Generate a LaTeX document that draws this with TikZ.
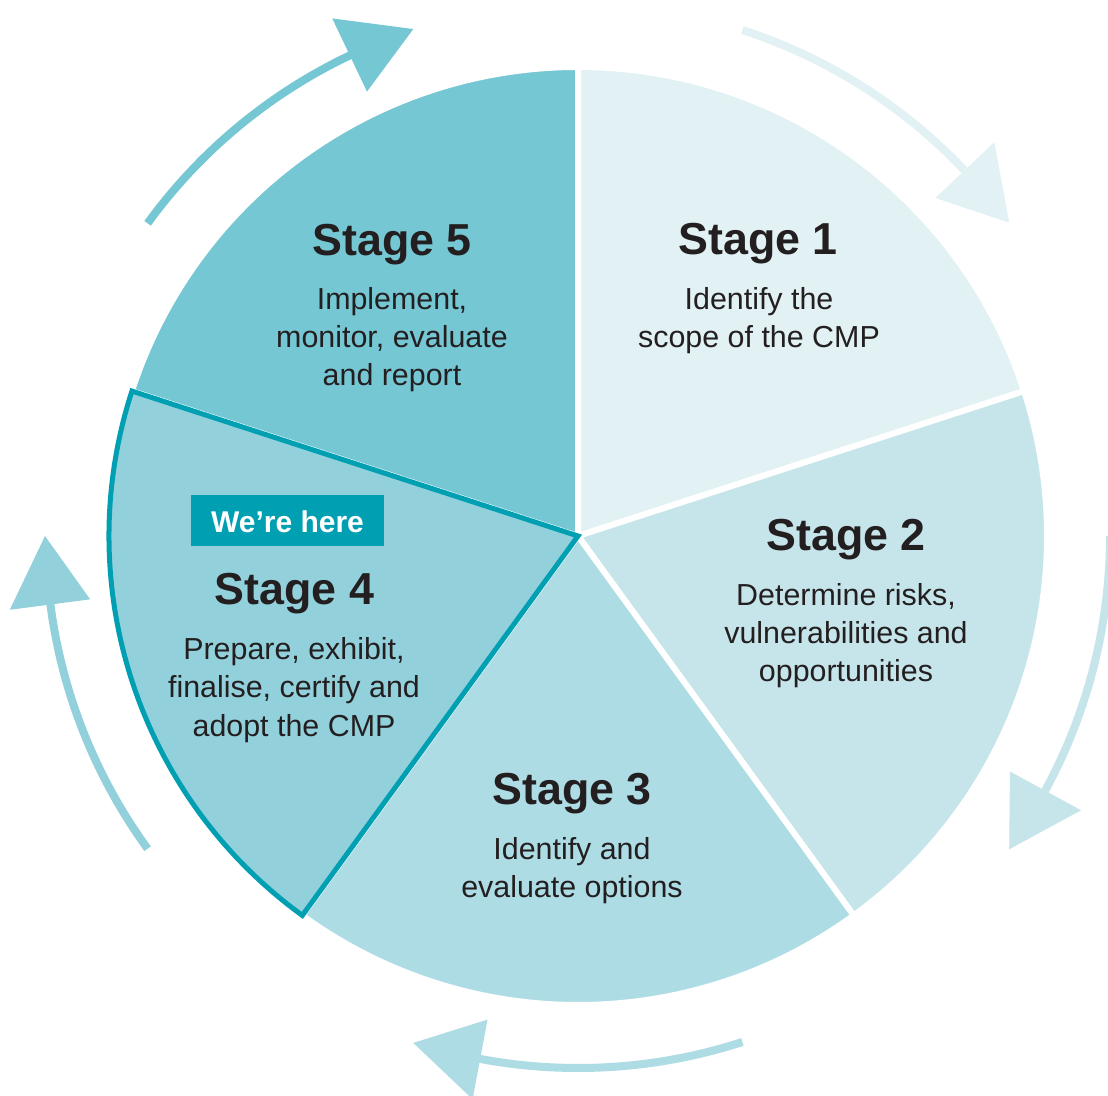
\documentclass[tikz,border=0pt]{standalone}
\usepackage{fontspec}
\setmainfont{Liberation Sans}
\definecolor{sOne}{HTML}{E1F1F4}
\definecolor{sTwo}{HTML}{C6E5EA}
\definecolor{sThree}{HTML}{ADDCE5}
\definecolor{sFour}{HTML}{92D1DC}
\definecolor{sFive}{HTML}{75C7D3}
\definecolor{tealline}{HTML}{00A0B2}
\definecolor{txt}{HTML}{231F20}
\begin{document}
\begin{tikzpicture}[x=1pt,y=1pt,
  title/.style={font=\fontsize{44.8}{50}\selectfont\bfseries, text=txt, anchor=base, inner sep=0pt},
  desc/.style={font=\fontsize{30.4}{38}\selectfont, text=txt, anchor=base, inner sep=0pt},
  sector/.style={draw=white, line width=6pt, line join=round},
  hereBox/.style={fill=tealline, draw=none}
]
\clip (0,0) rectangle (1108,1095);
\fill[white] (0,0) rectangle (1108,1095);
\begin{scope}[shift={(578,559)}]
  % sectors
  \filldraw[fill=sOne, sector] (0,0) -- (18:469) arc[start angle=18, end angle=90, radius=469] -- cycle;
  \filldraw[fill=sTwo, sector] (0,0) -- (-54:469) arc[start angle=-54, end angle=18, radius=469] -- cycle;
  \filldraw[fill=sThree, sector] (0,0) -- (-126:469) arc[start angle=-126, end angle=-54, radius=469] -- cycle;
  \filldraw[fill=sFive, sector] (0,0) -- (90:469) arc[start angle=90, end angle=162, radius=469] -- cycle;
  \filldraw[fill=sFour, draw=tealline, line width=5pt, line join=miter] (0,0) -- (162:469) arc[start angle=162, end angle=234, radius=469] -- cycle;
  % cycle arrows
  \foreach \s/\col in {144/sFive, 72/sOne, 0/sTwo, -72/sThree, -144/sFour} {
    \draw[\col, line width=8pt] (\s:532) arc[start angle=\s, end angle=\s-29, radius=532];
    \fill[\col] ({\s-28.6}:492) -- ({\s-28.6}:573) -- ({\s-36}:533) -- cycle;
  }
\end{scope}
% We're here box
\fill[hereBox] (191,549) rectangle (384,600);
\node[font=\fontsize{30}{36}\selectfont\bfseries, text=white, anchor=base, inner sep=0pt] (here) at (287.5,562) {We’re here};
% Stage 1
\node[title] (t1) at (758,840) {Stage 1};
\node[desc] (d1a) at (759,785) {Identify the};
\node[desc] (d1b) at (759,747) {scope of the CMP};
% Stage 2
\node[title] (t2) at (846,544) {Stage 2};
\node[desc] (d2a) at (846,489) {Determine risks,};
\node[desc] (d2b) at (846,451) {vulnerabilities and};
\node[desc] (d2c) at (846,413) {opportunities};
% Stage 3
\node[title] (t3) at (572,290) {Stage 3};
\node[desc] (d3a) at (572,235) {Identify and};
\node[desc] (d3b) at (572,197) {evaluate options};
% Stage 4
\node[title] (t4) at (294.5,490) {Stage 4};
\node[desc] (d4a) at (294,435) {Prepare, exhibit,};
\node[desc] (d4b) at (294,397) {finalise, certify and};
\node[desc] (d4c) at (294,358) {adopt the CMP};
% Stage 5
\node[title] (t5) at (392,839) {Stage 5};
\node[desc] (d5a) at (392,785) {Implement,};
\node[desc] (d5b) at (392,747) {monitor, evaluate};
\node[desc] (d5c) at (392,709) {and report};
\end{tikzpicture}
\end{document}
